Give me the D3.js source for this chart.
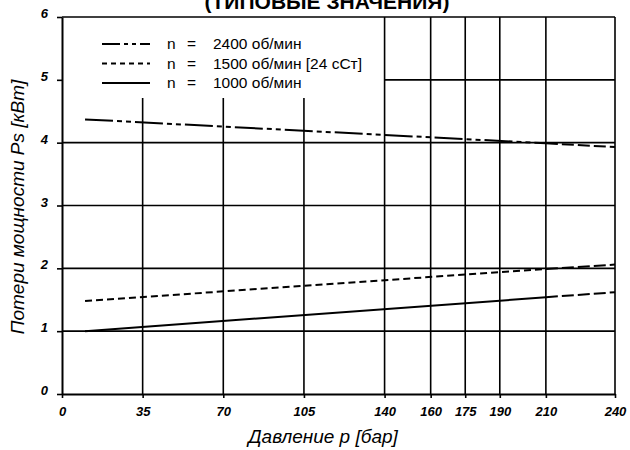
<!DOCTYPE html>
<html>
<head>
<meta charset="utf-8">
<script src="https://cdn.jsdelivr.net/npm/d3@7"></script>
<style>
  html, body { margin: 0; padding: 0; background: #fff; }
  svg { display: block; }
  .tick text { font-family: "Liberation Sans", Arial, sans-serif; font-style: italic; font-weight: bold; font-size: 13px; fill: #000; }
</style>
</head>
<body>
<svg id="chart" width="630" height="450"></svg>
<script>
// Pressure ticks (bar) and power-loss ticks (kW)
const pressureTicks = [0, 35, 70, 105, 140, 160, 175, 190, 210, 240];
const powerTicks = [0, 1, 2, 3, 4, 5, 6];

// Pressure points: start, end of measured range, end of extrapolated range
const pressure = [10, 210, 240];
const loss2400 = [4.37, 3.99, 3.93];
const loss1500 = [1.48, 1.99, 2.06];
const loss1000 = [1.0, 1.54, 1.62];

const seriesSpeeds = ["2400 об/мин", "1500 об/мин [24 сСт]", "1000 об/мин"];
const seriesDash = ["28,4,5,4,5,4", "7,4", null];

const titleText = "(ТИПОВЫЕ ЗНАЧЕНИЯ)";
const xTitle = "Давление p [бар]";
const yTitle = "Потери мощности Ps [кВт]";

const svg = d3.select("#chart");
const font = '"Liberation Sans", Arial, sans-serif';

const x = d3.scaleLinear().domain([0, 240]).range([62, 615]);
const y = d3.scaleLinear().domain([0, 6]).range([394, 17]);

const grid = svg.append("g").attr("stroke", "#000").attr("stroke-width", 1.6);

// Horizontal grid lines 1..4 across the whole plot, 6 is the top frame
[1, 2, 3, 4, 6].forEach(v => {
  grid.append("line").attr("x1", x(0)).attr("x2", x(240)).attr("y1", y(v)).attr("y2", y(v));
});
// Line at 5 only across the high-pressure block
grid.append("line").attr("x1", x(140)).attr("x2", x(240)).attr("y1", y(5)).attr("y2", y(5));

// Vertical grid: low pressures stop below the legend, high pressures reach the top
[35, 70, 105].forEach(v => {
  grid.append("line").attr("x1", x(v)).attr("x2", x(v)).attr("y1", y(0)).attr("y2", 98);
});
[140, 160, 175, 190, 210, 240].forEach(v => {
  grid.append("line").attr("x1", x(v)).attr("x2", x(v)).attr("y1", y(0)).attr("y2", y(6));
});

// Axes
const xAxis = svg.append("g")
  .attr("transform", `translate(0,${y(0)})`)
  .call(d3.axisBottom(x).tickValues(pressureTicks).tickSize(4).tickSizeOuter(0).tickFormat(d3.format("d")));
xAxis.select(".domain").attr("stroke-width", 2);
xAxis.selectAll(".tick line").attr("stroke-width", 1.6);
xAxis.selectAll(".tick text").attr("dy", "1.15em");

const yAxis = svg.append("g")
  .attr("transform", `translate(${x(0)},0)`)
  .call(d3.axisLeft(y).tickValues(powerTicks).tickSize(5).tickSizeOuter(0).tickFormat(d3.format("d")));
yAxis.select(".domain").attr("stroke-width", 2);
yAxis.selectAll(".tick line").attr("stroke-width", 1.6);
yAxis.selectAll(".tick text").attr("x", -14).attr("dy", "0.05em");

// Curves: measured part in the series style, extrapolated part in long dashes
const line = d3.line().x(d => x(d[0])).y(d => y(d[1]));
const allSeries = [loss2400, loss1500, loss1000];
allSeries.forEach((vals, i) => {
  const pts = pressure.map((p, k) => [p, vals[k]]);
  svg.append("path")
    .attr("d", line(pts.slice(0, 2)))
    .attr("fill", "none").attr("stroke", "#000").attr("stroke-width", 2)
    .attr("stroke-dasharray", seriesDash[i]);
  svg.append("path")
    .attr("d", line(pts.slice(1)))
    .attr("fill", "none").attr("stroke", "#000").attr("stroke-width", 2)
    .attr("stroke-dasharray", "12,4");
});

// Legend
const legendDash = ["18,4,4,4,4,4", "5,4", null];
const legend = svg.append("g").attr("font-family", font).attr("font-size", 15.5);
seriesSpeeds.forEach((speed, i) => {
  const ly = 44 + i * 19.5;
  legend.append("line").attr("x1", 102).attr("x2", 150).attr("y1", ly).attr("y2", ly)
    .attr("stroke", "#000").attr("stroke-width", 1.8).attr("stroke-dasharray", legendDash[i]);
  legend.append("text").attr("x", 167).attr("y", ly + 5).text("n");
  legend.append("text").attr("x", 187).attr("y", ly + 5).text("=");
  legend.append("text").attr("x", 213).attr("y", ly + 5).text(speed);
});

// Titles
svg.append("text").attr("x", 327).attr("y", 9).attr("text-anchor", "middle")
  .attr("font-family", font).attr("font-weight", "bold").attr("font-size", 21)
  .text(titleText);

svg.append("text").attr("x", 323).attr("y", 443).attr("text-anchor", "middle")
  .attr("font-family", font).attr("font-style", "italic").attr("font-size", 19)
  .text(xTitle);

svg.append("text").attr("transform", "translate(24,207) rotate(-90)").attr("text-anchor", "middle")
  .attr("font-family", font).attr("font-style", "italic").attr("font-size", 19)
  .text(yTitle);
</script>
</body>
</html>
